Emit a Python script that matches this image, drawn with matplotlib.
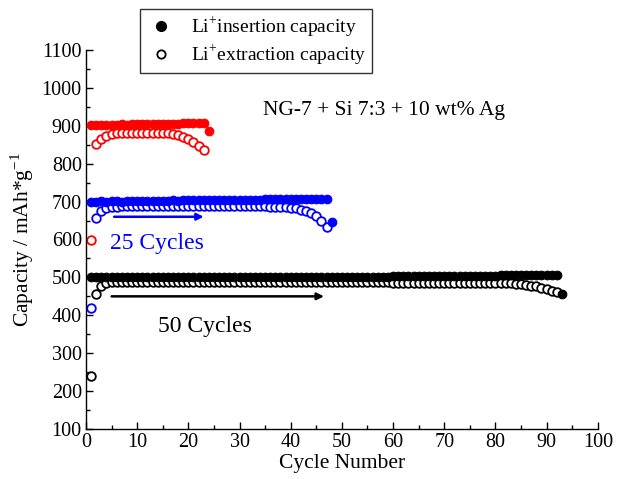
import matplotlib
matplotlib.use('Agg')
import matplotlib.pyplot as plt
from matplotlib.ticker import MultipleLocator
from matplotlib.lines import Line2D

plt.rcParams['font.family'] = ['Liberation Serif', 'DejaVu Serif']
plt.rcParams['mathtext.fontset'] = 'custom'
plt.rcParams['mathtext.rm'] = 'Liberation Serif'

# ------------- Datos -------------
# 25 ciclos (rojo)
red_ins = [902, 903, 903, 902, 903, 903, 904, 903, 904, 904, 904, 905,
           905, 905, 905, 906, 906, 906, 907, 907, 908, 908, 908, 885]
red_ext = [598, 852, 866, 874, 878, 880, 881, 882, 882, 882, 882, 882,
           882, 881, 881, 880, 878, 875, 870, 864, 857, 848, 835]

# 50 ciclos (azul)
blue_ins = [700, 700, 701, 700, 701, 701, 700, 701, 701, 701, 702, 701,
            702, 702, 702, 702, 703, 702, 703, 703, 703, 703, 703, 704,
            704, 704, 704, 704, 705, 705, 705, 705, 705, 705, 706, 706,
            706, 706, 706, 707, 707, 707, 707, 708, 708, 708, 708, 645]
blue_ext = [418, 657, 676, 683, 686, 687, 688, 688, 688, 688, 688, 688,
            688, 688, 688, 688, 688, 688, 688, 688, 688, 688, 688, 688,
            688, 688, 688, 689, 689, 689, 689, 689, 689, 688, 688, 687,
            687, 686, 685, 684, 682, 679, 675, 669, 661, 649, 634]

# 100 ciclos (negro)
black_ins = [500, 500, 500, 500, 500, 500, 500, 500, 500, 500,
             500, 500, 500, 500, 500, 500, 500, 500, 500, 500,
             500, 500, 500, 500, 500, 500, 500, 500, 500, 500,
             500, 500, 500, 500, 500, 500, 500, 500, 500, 500,
             500, 500, 500, 500, 500, 500, 500, 500, 500, 500,
             501, 501, 501, 501, 501, 501, 501, 501, 501, 503,
             503, 503, 503, 503, 503, 503, 503, 503, 503, 503,
             504, 504, 504, 504, 504, 504, 504, 504, 504, 504,
             506, 506, 506, 506, 506, 506, 506, 507, 507, 507,
             507, 507, 457]
black_ext = [240, 455, 478, 485, 488, 489, 489, 489, 489, 489,
             489, 489, 489, 489, 489, 489, 489, 489, 489, 489,
             489, 489, 489, 489, 489, 489, 489, 489, 489, 489,
             489, 489, 489, 489, 489, 489, 489, 489, 489, 489,
             489, 489, 489, 489, 489, 489, 489, 488, 488, 488,
             488, 488, 488, 488, 488, 488, 488, 488, 488, 486,
             486, 486, 486, 486, 486, 486, 486, 486, 486, 486,
             486, 486, 486, 486, 486, 486, 486, 486, 485, 485,
             485, 484, 484, 483, 482, 480, 478, 476, 473, 469,
             465, 461]

series = [
    (red_ins, red_ext, '#ff0000'),
    (blue_ins, blue_ext, '#0000ff'),
    (black_ins, black_ext, 'black'),
]

# ------------- Figura -------------
fig = plt.figure(figsize=(6.24, 4.79), dpi=100)
ax = fig.add_axes([0.1378, 0.1044, 0.8202, 0.7912])

ms = 6.2
for ins, ext, col in series:
    ax.plot(range(1, len(ext) + 1), ext, 'o', ls='none', ms=ms, mfc='white',
            mec=col, mew=1.3, zorder=2)
    ax.plot(range(1, len(ins) + 1), ins, 'o', ls='none', ms=ms, mfc=col,
            mec=col, mew=0.8, zorder=3)

# flechas
ax.annotate('', xy=(23, 660), xytext=(5.5, 660),
            arrowprops=dict(arrowstyle='-|>', color='#0000ff', lw=1.8,
                            mutation_scale=10, shrinkA=0, shrinkB=0))
ax.annotate('', xy=(46.5, 450), xytext=(5, 450),
            arrowprops=dict(arrowstyle='-|>', color='black', lw=1.8,
                            mutation_scale=10, shrinkA=0, shrinkB=0))

ax.text(13.8, 590, '25 Cycles', color='#0000ff', fontsize=17,
        ha='center', va='center')
ax.text(23.2, 370, '50 Cycles', color='black', fontsize=17,
        ha='center', va='center')
ax.text(58.2, 940, 'NG-7 + Si 7:3 + 10 wt% Ag', color='black', fontsize=15.5,
        ha='center', va='center')

ax.set_xlim(0, 100)
ax.set_ylim(100, 1100)
ax.xaxis.set_major_locator(MultipleLocator(10))
ax.xaxis.set_minor_locator(MultipleLocator(5))
ax.yaxis.set_major_locator(MultipleLocator(100))
ax.yaxis.set_minor_locator(MultipleLocator(50))
ax.tick_params(which='both', direction='in', top=False, right=False,
               labelsize=14.5, width=1)
ax.tick_params(which='major', length=5, pad=3)
ax.tick_params(which='minor', length=3)
for s in ['top', 'right']:
    ax.spines[s].set_visible(False)
for s in ['left', 'bottom']:
    ax.spines[s].set_linewidth(1)

ax.set_xlabel('Cycle Number', fontsize=15.5, labelpad=1)
ax.set_ylabel('Capacity / mAh*g$^{-1}$', fontsize=15.5, labelpad=4)

handles = [
    Line2D([], [], marker='o', ls='none', ms=7, mfc='black', mec='black'),
    Line2D([], [], marker='o', ls='none', ms=6, mfc='white', mec='black', mew=1.3),
]
labels = ['Li$^{+}$insertion capacity', 'Li$^{+}$extraction capacity']
leg = fig.legend(handles, labels, loc='upper left',
                 bbox_to_anchor=(140 / 624, 1 - 9 / 479), fontsize=14,
                 frameon=True, fancybox=False, edgecolor='black',
                 handletextpad=0.7, borderpad=0.3, labelspacing=0.2,
                 handlelength=1.6, borderaxespad=0)
leg.get_frame().set_linewidth(1)

fig.savefig('out.png', dpi=100)
